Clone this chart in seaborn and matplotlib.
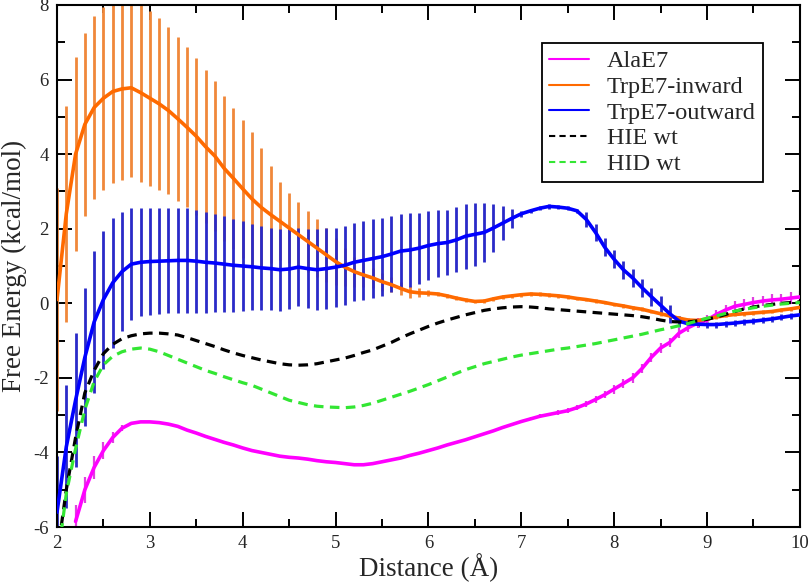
import numpy as np
import matplotlib
matplotlib.use("Agg")
import matplotlib.pyplot as plt
from matplotlib.ticker import MultipleLocator
import seaborn as sns

nan = np.nan

# distance grid (Angstrom), one reading every 0.1
distance = np.round(np.linspace(2.0, 10.0, 81), 1)

ala_e7 = [nan, nan, -5.85, -5.0, -4.4, -3.95, -3.6, -3.35, -3.22, -3.18,
          -3.18, -3.2, -3.24, -3.3, -3.4, -3.48, -3.57, -3.65, -3.73, -3.8,
          -3.88, -3.95, -4.0, -4.05, -4.1, -4.13, -4.15, -4.18, -4.22, -4.25,
          -4.27, -4.3, -4.33, -4.33, -4.3, -4.25, -4.2, -4.15, -4.08, -4.02,
          -3.95, -3.88, -3.8, -3.73, -3.66, -3.58, -3.5, -3.42, -3.33, -3.25,
          -3.17, -3.1, -3.03, -2.98, -2.93, -2.88, -2.8, -2.7, -2.58, -2.45,
          -2.3, -2.15, -2.0, -1.75, -1.45, -1.2, -1.05, -0.8, -0.65, -0.53,
          -0.45, -0.3, -0.18, -0.08, -0.03, 0.02, 0.06, 0.09, 0.11, 0.14,
          0.17]
ala_e7_err = [nan, nan, 0.45, 0.35, 0.3, 0.22, 0.15, 0.08, 0.03, 0.03,
              0.03, 0.03, 0.03, 0.03, 0.03, 0.03, 0.03, 0.03, 0.03, 0.03,
              0.03, 0.03, 0.03, 0.03, 0.03, 0.03, 0.03, 0.03, 0.03, 0.03,
              0.03, 0.03, 0.03, 0.03, 0.03, 0.03, 0.03, 0.03, 0.03, 0.03,
              0.03, 0.03, 0.03, 0.03, 0.03, 0.03, 0.03, 0.03, 0.03, 0.03,
              0.04, 0.04, 0.05, 0.05, 0.06, 0.06, 0.07, 0.08, 0.09, 0.1,
              0.12, 0.12, 0.13, 0.13, 0.13, 0.13, 0.13, 0.13, 0.13, 0.13,
              0.13, 0.13, 0.13, 0.13, 0.14, 0.14, 0.14, 0.15, 0.15, 0.15,
              0.15]

trp_in = [0.1, 2.4, 4.0, 4.8, 5.25, 5.5, 5.68, 5.75, 5.78, 5.65,
          5.5, 5.35, 5.17, 4.95, 4.72, 4.48, 4.2, 3.95, 3.62, 3.35,
          3.07, 2.8, 2.57, 2.38, 2.2, 2.02, 1.84, 1.66, 1.48, 1.3,
          1.12, 0.97, 0.85, 0.76, 0.68, 0.58, 0.5, 0.4, 0.31, 0.28,
          0.27, 0.25, 0.2, 0.14, 0.09, 0.05, 0.06, 0.12, 0.17, 0.2,
          0.23, 0.25, 0.24, 0.22, 0.2, 0.17, 0.13, 0.1, 0.06, 0.02,
          -0.03, -0.07, -0.12, -0.16, -0.22, -0.28, -0.34, -0.4, -0.45, -0.46,
          -0.42, -0.37, -0.33, -0.3, -0.28, -0.26, -0.24, -0.22, -0.18, -0.15,
          -0.11]
trp_in_err = [3.0, 2.9, 2.6, 2.45, 2.45, 2.45, 2.45, 2.45, 2.4, 2.4,
              2.35, 2.3, 2.25, 2.2, 2.15, 2.1, 2.05, 2.0, 1.95, 1.9,
              1.85, 1.8, 1.6, 1.3, 1.05, 0.95, 0.88, 0.82, 0.78, 0.72,
              0.62, 0.5, 0.4, 0.32, 0.27, 0.24, 0.2, 0.18, 0.16, 0.12,
              0.08, 0.05, 0.05, 0.05, 0.05, 0.05, 0.05, 0.05, 0.05, 0.05,
              0.05, 0.05, 0.05, 0.05, 0.05, 0.05, 0.05, 0.05, 0.05, 0.05,
              0.05, 0.05, 0.05, 0.05, 0.05, 0.05, 0.05, 0.05, 0.05, 0.05,
              0.05, 0.05, 0.05, 0.05, 0.05, 0.05, 0.05, 0.05, 0.05, 0.05,
              0.05]

trp_out = [-5.6, -3.85, -2.6, -1.45, -0.5, 0.1, 0.55, 0.85, 1.05, 1.1,
           1.12, 1.13, 1.14, 1.15, 1.15, 1.13, 1.1, 1.08, 1.05, 1.02,
           1.0, 0.98, 0.95, 0.93, 0.9, 0.92, 0.97, 0.93, 0.9, 0.93,
           0.97, 1.02, 1.1, 1.15, 1.2, 1.25, 1.32, 1.4, 1.43, 1.48,
           1.55, 1.6, 1.63, 1.7, 1.8, 1.85, 1.9, 2.02, 2.15, 2.28,
           2.4, 2.48, 2.55, 2.6, 2.58, 2.55, 2.48, 2.25, 1.9, 1.5,
           1.18, 0.9, 0.68, 0.42, 0.18, -0.05, -0.28, -0.48, -0.55, -0.56,
           -0.57, -0.57, -0.55, -0.53, -0.5, -0.48, -0.45, -0.42, -0.38, -0.34,
           -0.31]
trp_out_err = [1.5, 1.65, 1.8, 1.85, 1.9, 1.85, 1.75, 1.6, 1.5, 1.45,
               1.43, 1.42, 1.41, 1.4, 1.4, 1.38, 1.35, 1.32, 1.28, 1.24,
               1.2, 1.15, 1.12, 1.1, 1.1, 1.08, 1.05, 1.05, 1.08, 1.08,
               1.06, 1.06, 1.05, 1.05, 1.05, 1.05, 1.02, 1.0, 0.98, 0.95,
               0.93, 0.9, 0.88, 0.87, 0.87, 0.85, 0.8, 0.65, 0.45, 0.25,
               0.08, 0.06, 0.06, 0.06, 0.06, 0.06, 0.06, 0.2, 0.24, 0.24,
               0.24, 0.24, 0.24, 0.24, 0.24, 0.24, 0.24, 0.15, 0.08, 0.08,
               0.08, 0.08, 0.08, 0.08, 0.08, 0.08, 0.08, 0.08, 0.08, 0.08,
               0.08]

hie_wt = [-6.8, -5.0, -3.6, -2.4, -1.8, -1.35, -1.1, -0.95, -0.87, -0.82,
          -0.8, -0.8, -0.82, -0.85, -0.92, -1.0, -1.08, -1.16, -1.25, -1.33,
          -1.4, -1.46, -1.52, -1.57, -1.62, -1.65, -1.66, -1.65, -1.62, -1.57,
          -1.52, -1.47, -1.4, -1.32, -1.25, -1.15, -1.05, -0.93, -0.82, -0.72,
          -0.62, -0.53, -0.45, -0.38, -0.31, -0.25, -0.19, -0.15, -0.12, -0.1,
          -0.09, -0.1, -0.12, -0.15, -0.17, -0.19, -0.21, -0.23, -0.25, -0.27,
          -0.29, -0.31, -0.33, -0.36, -0.4, -0.45, -0.49, -0.5, -0.5, -0.47,
          -0.43, -0.37, -0.3, -0.22, -0.15, -0.1, -0.06, -0.03, 0.0, 0.02,
          0.04]

hid_wt = [-7.0, -5.1, -3.9, -2.85, -2.1, -1.65, -1.42, -1.3, -1.23, -1.2,
          -1.23, -1.3, -1.4, -1.5, -1.6, -1.7, -1.8, -1.88, -1.97, -2.05,
          -2.13, -2.2, -2.3, -2.4, -2.5, -2.6, -2.66, -2.72, -2.76, -2.78,
          -2.79, -2.8, -2.78, -2.74, -2.68, -2.6, -2.52, -2.44, -2.36, -2.27,
          -2.18, -2.08, -1.98, -1.88, -1.78, -1.7, -1.62, -1.56, -1.5, -1.44,
          -1.39, -1.35, -1.31, -1.27, -1.23, -1.2, -1.16, -1.12, -1.08, -1.03,
          -0.98, -0.93, -0.88, -0.83, -0.77, -0.71, -0.66, -0.6, -0.54, -0.47,
          -0.4, -0.34, -0.27, -0.21, -0.16, -0.12, -0.08, -0.05, -0.02, 0.0,
          0.02]

sns.set_style("ticks")
plt.rcParams["font.family"] = ["Liberation Serif", "DejaVu Serif"]
plt.rcParams["axes.unicode_minus"] = False

fig = plt.figure(figsize=(8.12, 5.88), dpi=100)
ax = fig.add_axes([0.0702, 0.1037, 0.9148, 0.8878])

# error bars first, lines on top
ax.errorbar(distance, trp_in, yerr=trp_in_err, fmt="none", ecolor="#f0883a",
            elinewidth=2.0, capsize=0, zorder=1)
ax.errorbar(distance, trp_out, yerr=trp_out_err, fmt="none", ecolor="#2a2ac8",
            elinewidth=2.0, capsize=0, zorder=2)
ax.errorbar(distance, ala_e7, yerr=ala_e7_err, fmt="none", ecolor="#e040e0",
            elinewidth=1.6, capsize=0, zorder=2)

sns.lineplot(x=distance, y=ala_e7, color="#ff00ff", lw=2.6, label="AlaE7", ax=ax, zorder=3)
sns.lineplot(x=distance, y=trp_in, color="#ff6a00", lw=2.6, label="TrpE7-inward", ax=ax, zorder=3)
sns.lineplot(x=distance, y=trp_out, color="#0000ff", lw=2.6, label="TrpE7-outward", ax=ax, zorder=3)
sns.lineplot(x=distance, y=hie_wt, color="black", lw=2.3, linestyle=(0, (3, 2)),
             label="HIE wt", ax=ax, zorder=4)
sns.lineplot(x=distance, y=hid_wt, color="#33e633", lw=2.3, linestyle=(0, (3, 2)),
             label="HID wt", ax=ax, zorder=4)

ax.set_xlim(2, 10)
ax.set_ylim(-6, 8)
ax.xaxis.set_major_locator(MultipleLocator(1))
ax.xaxis.set_minor_locator(MultipleLocator(0.5))
ax.yaxis.set_major_locator(MultipleLocator(2))
ax.yaxis.set_minor_locator(MultipleLocator(1))
ax.tick_params(which="both", direction="in", top=True, right=True,
               labelsize=13.5, width=1.4, color="black")
ax.tick_params(which="major", length=10.5, pad=6)
ax.tick_params(which="minor", length=5.5)
for s in ax.spines.values():
    s.set_linewidth(1.5)
    s.set_color("black")

ax.set_xlabel("Distance (Å)", fontsize=19.5, labelpad=1)
ax.set_ylabel("Free Energy (kcal/mol)", fontsize=19.5, labelpad=4)

leg = ax.legend(loc="upper right", bbox_to_anchor=(0.95, 0.927), borderaxespad=0,
                fontsize=17.5, frameon=True, fancybox=False, framealpha=1,
                handlelength=1.65, handletextpad=0.7, labelspacing=0.15,
                borderpad=0.3)
leg.get_frame().set_edgecolor("black")
leg.get_frame().set_linewidth(1.3)
for h in leg.get_lines():
    h.set_linewidth(1.5)

fig.savefig("out.png", dpi=100)
